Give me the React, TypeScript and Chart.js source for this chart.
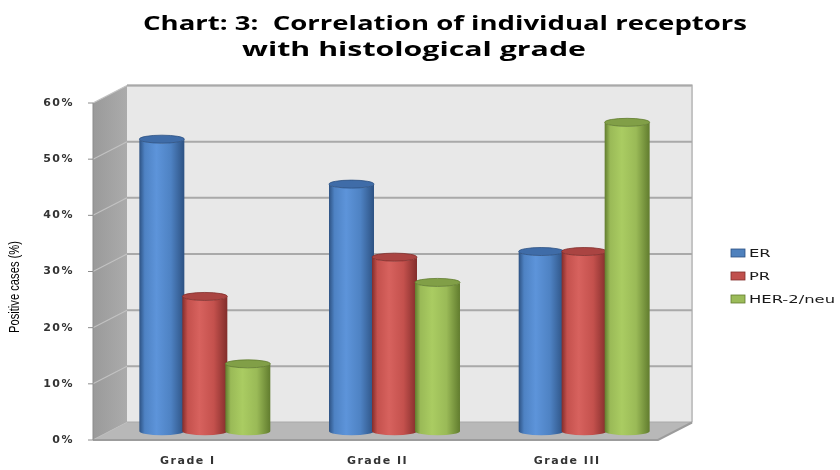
import { useEffect, useRef } from 'react';
import { Chart, registerables } from 'chart.js';

Chart.register(...registerables);

// data
const categories = ['Grade I', 'Grade II', 'Grade III'];
const seriesNames = ['ER', 'PR', 'HER-2/neu'];
const erValues = [52, 44, 32];
const prValues = [24, 31, 32];
const herValues = [12, 26.5, 55];
const yTickValues = [0, 10, 20, 30, 40, 50, 60];
const titleLines = ['Chart: 3:  Correlation of individual receptors', 'with histological grade'];
const yAxisTitle = 'Positive cases (%)';

// cylinder shading: edge, light, mid, top
const palette = [
    { edge: '#2d5283', light: '#5d94da', mid: '#4e82c3', top: '#3f6ca8', legend: '#4f81bd' },
    { edge: '#822d2b', light: '#d7625e', mid: '#c4514d', top: '#aa4442', legend: '#c0504d' },
    { edge: '#617c2e', light: '#aacc62', mid: '#9aba57', top: '#819f47', legend: '#9bbb59' },
];

// depth offset from front plane to back wall
const DX = 34;
const DY = -17.5;

const fitText = (ctx: CanvasRenderingContext2D, text: string, x: number, y: number, width: number) => {
    const w = ctx.measureText(text).width;
    ctx.save();
    ctx.translate(x, y);
    ctx.scale(width / w, 1);
    ctx.fillText(text, 0, 0);
    ctx.restore();
};

const drawCylinder = (ctx: CanvasRenderingContext2D, cx: number, top: number, bottom: number, w: number, c: any) => {
    const rx = w / 2;
    const ry = 4;
    const g = ctx.createLinearGradient(cx - rx, 0, cx + rx, 0);
    g.addColorStop(0, c.edge);
    g.addColorStop(0.12, c.mid);
    g.addColorStop(0.38, c.light);
    g.addColorStop(0.7, c.mid);
    g.addColorStop(1, c.edge);
    ctx.beginPath();
    ctx.moveTo(cx - rx, top);
    ctx.lineTo(cx - rx, bottom);
    ctx.ellipse(cx, bottom, rx, ry, 0, Math.PI, 0, true);
    ctx.lineTo(cx + rx, top);
    ctx.ellipse(cx, top, rx, ry, 0, 0, Math.PI, false);
    ctx.closePath();
    ctx.fillStyle = g;
    ctx.fill();
    ctx.beginPath();
    ctx.ellipse(cx, top, rx, ry, 0, 0, Math.PI * 2);
    ctx.fillStyle = c.top;
    ctx.fill();
    ctx.strokeStyle = c.edge;
    ctx.lineWidth = 0.8;
    ctx.stroke();
};

const excel3d = {
    id: 'excel3d',
    beforeDraw(chart: any) {
        // wider looking axis text, like the stretched original
        chart.ctx.letterSpacing = '1.5px';
    },
    beforeDatasetsDraw(chart: any) {
        const { ctx, chartArea } = chart;
        const y = chart.scales.y;
        const { left, right, top, bottom } = chartArea;
        ctx.save();
        ctx.letterSpacing = '0px';
        // back wall
        ctx.fillStyle = '#e8e8e8';
        ctx.fillRect(left + DX, top + DY, right - left - 4, bottom - top);
        ctx.strokeStyle = '#c4c4c4';
        ctx.lineWidth = 2;
        ctx.beginPath();
        ctx.moveTo(left + DX, top + DY);
        ctx.lineTo(right + DX - 4, top + DY);
        ctx.lineTo(right + DX - 4, bottom + DY);
        ctx.stroke();
        // side wall
        const sg = ctx.createLinearGradient(left, 0, left + DX, 0);
        sg.addColorStop(0, '#9a9a9a');
        sg.addColorStop(1, '#ababab');
        ctx.fillStyle = sg;
        ctx.beginPath();
        ctx.moveTo(left, top);
        ctx.lineTo(left + DX, top + DY);
        ctx.lineTo(left + DX, bottom + DY);
        ctx.lineTo(left, bottom);
        ctx.closePath();
        ctx.fill();
        // grid lines on wall and side
        yTickValues.forEach((v) => {
            const py = y.getPixelForValue(v);
            ctx.strokeStyle = '#a9a9a9';
            ctx.lineWidth = 2;
            ctx.beginPath();
            ctx.moveTo(left + DX, py + DY);
            ctx.lineTo(right + DX - 4, py + DY);
            ctx.stroke();
            ctx.strokeStyle = '#c2c2c2';
            ctx.lineWidth = 1.2;
            ctx.beginPath();
            ctx.moveTo(left, py);
            ctx.lineTo(left + DX, py + DY);
            ctx.stroke();
            ctx.strokeStyle = '#8c8c8c';
            ctx.lineWidth = 1;
            ctx.beginPath();
            ctx.moveTo(left - 5, py);
            ctx.lineTo(left, py);
            ctx.stroke();
        });
        // floor
        ctx.fillStyle = '#b8b8b8';
        ctx.beginPath();
        ctx.moveTo(left, bottom);
        ctx.lineTo(right - 4, bottom);
        ctx.lineTo(right + DX - 4, bottom + DY);
        ctx.lineTo(left + DX, bottom + DY);
        ctx.closePath();
        ctx.fill();
        ctx.strokeStyle = '#9c9c9c';
        ctx.lineWidth = 2;
        ctx.beginPath();
        ctx.moveTo(left, bottom);
        ctx.lineTo(right - 4, bottom);
        ctx.lineTo(right + DX - 4, bottom + DY);
        ctx.stroke();
        // front axis line
        ctx.strokeStyle = '#8c8c8c';
        ctx.lineWidth = 1;
        ctx.beginPath();
        ctx.moveTo(left, top);
        ctx.lineTo(left, bottom);
        ctx.stroke();
        ctx.restore();
    },
    afterDatasetsDraw(chart: any) {
        const { ctx } = chart;
        ctx.save();
        chart.data.datasets.forEach((_: any, i: number) => {
            const meta = chart.getDatasetMeta(i);
            meta.data.forEach((bar: any) => {
                const p = bar.getProps(['x', 'y', 'base', 'width'], true);
                drawCylinder(ctx, p.x + DX / 2, p.y + DY / 2, p.base + DY / 2, p.width + 2, palette[i]);
            });
        });
        ctx.restore();
    },
    afterDraw(chart: any) {
        const { ctx } = chart;
        ctx.save();
        ctx.letterSpacing = '0px';
        ctx.fillStyle = '#000';
        ctx.textBaseline = 'alphabetic';
        ctx.textAlign = 'left';
        ctx.font = 'bold 20px "Open Sans", "Noto Sans", sans-serif';
        fitText(ctx, titleLines[0], 143, 30, 604);
        fitText(ctx, titleLines[1], 242, 56, 344);

        // rotated axis title
        ctx.font = '14px "Liberation Sans Narrow", "Liberation Sans", sans-serif';
        ctx.fillStyle = '#000';
        ctx.save();
        ctx.translate(19, 333);
        ctx.rotate(-Math.PI / 2);
        fitText(ctx, yAxisTitle, 0, 0, 92);
        ctx.restore();

        // legend
        ctx.font = '11px "DejaVu Sans", sans-serif';
        ctx.textBaseline = 'middle';
        const legendY = [253, 276, 299];
        const k = 86 / ctx.measureText(seriesNames[2]).width;
        seriesNames.forEach((name, i) => {
            ctx.fillStyle = palette[i].legend;
            ctx.fillRect(731, legendY[i] - 4, 14, 8);
            ctx.strokeStyle = palette[i].edge;
            ctx.lineWidth = 0.8;
            ctx.strokeRect(731, legendY[i] - 4, 14, 8);
            ctx.fillStyle = '#1a1a1a';
            fitText(ctx, name, 749, legendY[i] + 1, ctx.measureText(name).width * k);
        });
        ctx.restore();
    },
};

const App = () => {
    const canvasRef = useRef<HTMLCanvasElement | null>(null);
    const chartRef = useRef<Chart | null>(null);

    useEffect(() => {
        if (!canvasRef.current) return;
        if (chartRef.current) chartRef.current.destroy();

        const values = [erValues, prValues, herValues];
        chartRef.current = new Chart(canvasRef.current, {
            type: 'bar',
            data: {
                labels: categories,
                datasets: seriesNames.map((name, i) => ({
                    label: name,
                    data: values[i],
                    backgroundColor: 'rgba(0,0,0,0)',
                    borderWidth: 0,
                    categoryPercentage: 0.68,
                    barPercentage: 1,
                })),
            },
            options: {
                animation: false,
                responsive: true,
                maintainAspectRatio: false,
                layout: { padding: { top: 103, right: 178, left: 0, bottom: 0 } },
                plugins: {
                    legend: { display: false },
                    title: { display: false },
                    tooltip: { enabled: false },
                },
                scales: {
                    x: {
                        grid: { display: false, drawTicks: false },
                        border: { display: false },
                        ticks: {
                            padding: 15,
                            color: '#333333',
                            font: { family: '"DejaVu Sans", sans-serif', size: 11, weight: 'bold' },
                        },
                        afterFit: (scale: any) => {
                            scale.height = 30;
                        },
                    },
                    y: {
                        min: 0,
                        max: 60,
                        grid: { display: false, drawTicks: false },
                        border: { display: false },
                        ticks: {
                            stepSize: 10,
                            padding: 19,
                            color: '#333333',
                            font: { family: '"DejaVu Sans", sans-serif', size: 11, weight: 'bold' },
                            callback: (v: any) => `${v}%`,
                        },
                        afterFit: (scale: any) => {
                            scale.width = 93;
                        },
                    },
                },
            },
            plugins: [excel3d],
        });

        return () => {
            if (chartRef.current) {
                chartRef.current.destroy();
                chartRef.current = null;
            }
        };
    }, []);

    return (
        <div style={{ position: 'absolute', left: 0, top: 0, width: 840, height: 470, background: '#fff' }}>
            <canvas ref={canvasRef} />
        </div>
    );
};

export default App;
